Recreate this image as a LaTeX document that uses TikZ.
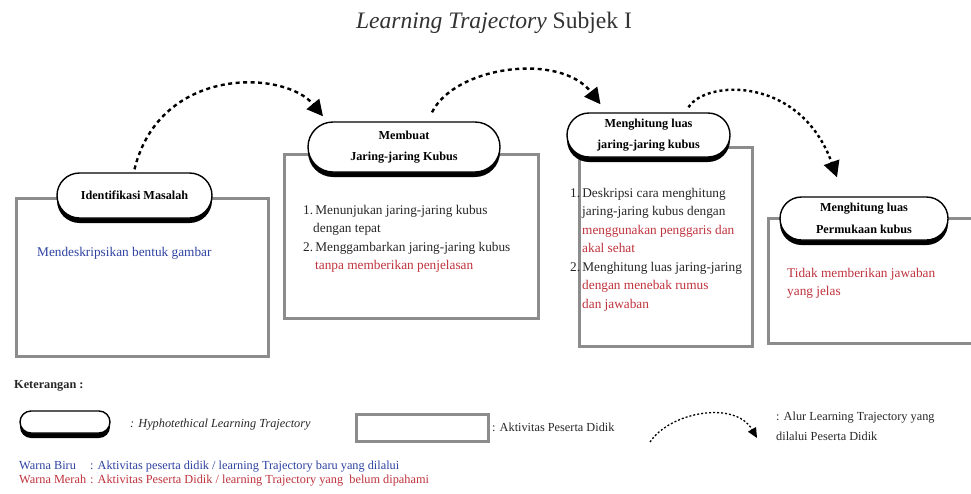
\documentclass[tikz,border=0pt]{standalone}
\usepackage{fontspec}
\setmainfont{Liberation Serif}
\usetikzlibrary{shapes.misc,shadows,arrows.meta,calc}
\definecolor{tblue}{RGB}{45,65,160}
\definecolor{tred}{RGB}{190,50,60}
\definecolor{boxgray}{RGB}{140,140,140}
\begin{document}
\begin{tikzpicture}[x=1pt,y=-1pt,
  pill/.style={rounded rectangle, draw=black, line width=1.4pt, fill=white,
    inner sep=0pt, align=center, font=\bfseries\fontsize{12.2}{21.5}\selectfont,
    general shadow={fill=black, shadow yshift=-5pt}},
  actbox/.style={draw=boxgray, line width=2.5pt, inner sep=0pt},
  body/.style={anchor=north west, inner sep=0pt, align=left, text=black!85,
    font=\fontsize{13.3}{18.5}\selectfont},
  traj/.style={line width=2.4pt, dash pattern=on 4pt off 3.5pt,
    -{Triangle[width=16pt,length=16pt]}},
  legarrow/.style={line width=1.3pt, dash pattern=on 2pt off 2pt,
    -{Triangle[width=9pt,length=10pt]}},
  legtext/.style={inner sep=0pt, text=black!85, font=\fontsize{12.3}{15}\selectfont},
]
\useasboundingbox (0,0) rectangle (971,493);
\clip (0,0) rectangle (971,493);

% title
\node[anchor=base, inner sep=0pt, font=\fontsize{23.6}{26}\selectfont, text=black!80] (title) at (494,28)
  {\textit{Learning Trajectory} Subjek I};

% activity boxes
\node[actbox, anchor=north west, minimum width=252pt, minimum height=158pt] (b1) at (15,197) {};
\node[actbox, anchor=north west, minimum width=254pt, minimum height=164pt] (b2) at (283,153) {};
\node[actbox, anchor=north west, minimum width=173pt, minimum height=199pt] (b3) at (578,146) {};
\node[actbox, anchor=north west, minimum width=230pt, minimum height=125pt] (b4) at (767,217) {};

% box texts
\node[body, text=tblue] (t1) at (37,247) {Mendeskripsikan bentuk gambar};
\node[body] (t2) at (303,205) {1.\,Menunjukan jaring-jaring kubus\\
  \hspace*{10pt}dengan tepat\\
  2.\,Menggambarkan jaring-jaring kubus\\
  \hspace*{12pt}\textcolor{tred}{tanpa memberikan penjelasan}};
\node[body] (t3) at (570,188) {1.\,Deskripsi cara menghitung\\
  \hspace*{12pt}jaring-jaring kubus dengan\\
  \hspace*{12pt}\textcolor{tred}{menggunakan penggaris dan}\\
  \hspace*{12pt}\textcolor{tred}{akal sehat}\\
  2.\,Menghitung luas jaring-jaring\\
  \hspace*{12pt}\textcolor{tred}{dengan menebak rumus}\\
  \hspace*{12pt}\textcolor{tred}{dan jawaban}};
\node[body, text=tred] (t4) at (787,268) {Tidak memberikan jawaban\\yang jelas};

% hypothetical learning trajectory pills
\node[pill, minimum width=155pt, minimum height=45pt] (p1) at (134.5,195.5) {Identifikasi Masalah};
\node[pill, minimum width=192pt, minimum height=50pt] (p2) at (404,147) {Membuat\\Jaring-jaring Kubus};
\node[pill, minimum width=163pt, minimum height=44pt] (p3) at (648.5,135) {Menghitung luas\\jaring-jaring kubus};
\node[pill, minimum width=168pt, minimum height=43pt] (p4) at (864,218.5) {Menghitung luas\\Permukaan kubus};

% trajectory arrows
\draw[traj] ([yshift=3pt]p1.north) .. controls (160,65) and (285,70) .. ([xshift=-81pt,yshift=5pt]p2.north);
\draw[traj] ([xshift=28pt,yshift=9pt]p2.north) .. controls (455,66) and (560,52) .. ([xshift=-48pt,yshift=8pt]p3.north);
\draw[traj, dash pattern=on 3pt off 3pt] ([xshift=40pt,yshift=5pt]p3.north) .. controls (705,80) and (800,75) .. ([xshift=-27pt,yshift=19pt]p4.north);

% legend
\node[anchor=base west, inner sep=0pt, text=black!85, font=\bfseries\fontsize{12.3}{14}\selectfont] (ket) at (14,388) {Keterangan :};
\node[pill, minimum width=90pt, minimum height=22pt] (lp) at (65,422) {};
\node[legtext, anchor=west, font=\itshape\fontsize{12.3}{15}\selectfont] (lh) at (130,425) {: Hyphotethical Learning Trajectory};
\node[actbox, anchor=north west, minimum width=132pt, minimum height=27pt] (lr) at (355,413) {};
\node[legtext, anchor=west] (la) at (492,427) {: Aktivitas Peserta Didik};
\coordinate (ls) at (650,442);
\coordinate (le) at (757,438);
\draw[legarrow] (ls) .. controls (670,412) and (735,400) .. (le);
\node[legtext, anchor=north west, align=left, font=\fontsize{12.3}{19.5}\selectfont] (lalur) at (776,412)
  {: Alur Learning Trajectory yang\\dilalui Peserta Didik};
\node[legtext, anchor=base west, text=tblue] (wb) at (19,469) {Warna Biru};
\node[legtext, anchor=base west, text=tblue] (wbt) at (90,469) {: Aktivitas peserta didik / learning Trajectory baru yang dilalui};
\node[legtext, anchor=base west, text=tred] (wm) at (19,483) {Warna Merah};
\node[legtext, anchor=base west, text=tred] (wmt) at (90,483) {: Aktivitas Peserta Didik / learning Trajectory yang\ \ belum dipahami};
\end{tikzpicture}
\end{document}
